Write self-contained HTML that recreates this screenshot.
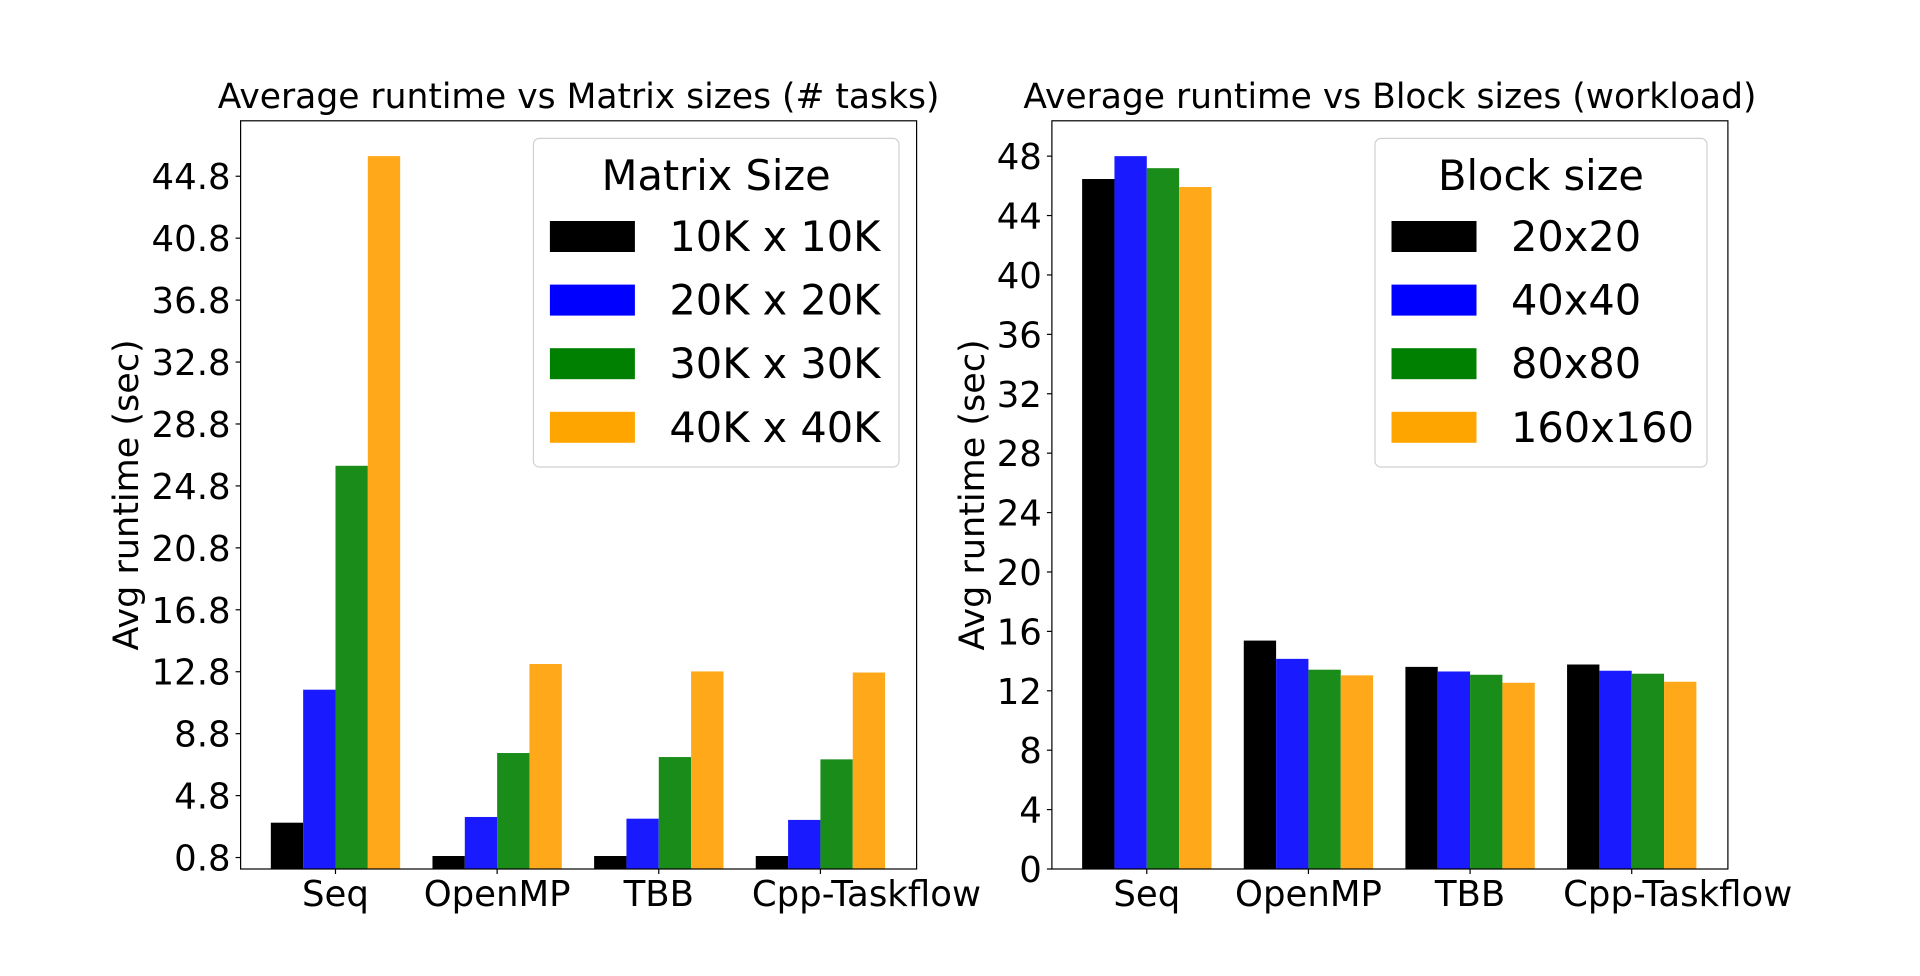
<!DOCTYPE html>
<html><head><meta charset="utf-8">
<style>
html,body{margin:0;padding:0;background:#fff;}
svg{display:block;font-family:"DejaVu Sans","Liberation Sans",sans-serif;}
</style></head>
<body>
<svg id="chart" width="1920" height="976" viewBox="0 0 1920 976" xmlns="http://www.w3.org/2000/svg"></svg>
<script>
const categories = ["Seq","OpenMP","TBB","Cpp-Taskflow"];
const leftSeriesNames = ["10K x 10K","20K x 20K","30K x 30K","40K x 40K"];
const leftS1 = [3.05,0.9,0.9,0.9];
const leftS2 = [11.64,3.42,3.31,3.23];
const leftS3 = [26.1,7.55,7.29,7.14];
const leftS4 = [46.1,13.3,12.82,12.75];
const leftTicks = [0.8,4.8,8.8,12.8,16.8,20.8,24.8,28.8,32.8,36.8,40.8,44.8];
const rightSeriesNames = ["20x20","40x40","80x80","160x160"];
const rightS1 = [46.46,15.38,13.61,13.77];
const rightS2 = [48.0,14.15,13.30,13.35];
const rightS3 = [47.19,13.42,13.08,13.15];
const rightS4 = [45.92,13.04,12.54,12.61];
const rightTicks = [0,4,8,12,16,20,24,28,32,36,40,44,48];

const NS="http://www.w3.org/2000/svg";
const svg=document.getElementById('chart');
const barColors=["rgb(0,0,0)","rgb(26,26,255)","rgb(26,140,26)","rgb(255,168,26)"];
const legColors=["#000000","#0000ff","#008000","#ffa500"];
const labelShift=[0,0,0,46];
function mk(tag,attrs,parent){const e=document.createElementNS(NS,tag);for(const k in attrs)e.setAttribute(k,attrs[k]);(parent||svg).appendChild(e);return e;}

function panel(opt){
  const g=mk('g',{});
  
  
  const L=opt.left,R=opt.right,T=120.8,B=869;
  const xmin=-0.587,xmax=3.595;
  const xs=v=>L+(v-xmin)/(xmax-xmin)*(R-L);
  const ys=v=>B-(v-opt.ymin)/(opt.ymax-opt.ymin)*(B-T);
  const series=[opt.s1,opt.s2,opt.s3,opt.s4];
  series.forEach((s,si)=>{
    s.forEach((v,ci)=>{
      const x0=xs(ci-0.4+si*0.2), x1=xs(ci-0.2+si*0.2);
      const r=mk('rect',{x:x0,y:ys(v),width:x1-x0,height:B-ys(v),fill:barColors[si]},g);
      
      
    });
  });
  const frame=mk('rect',{x:L,y:T,width:R-L,height:B-T,fill:'none',stroke:'#000','stroke-width':1.2},g);
  
  
  opt.ticks.forEach(t=>{
    const y=ys(t);
    mk('line',{x1:L-5,x2:L,y1:y,y2:y,stroke:'#000','stroke-width':1.2},g);
    const tx=mk('text',{x:L-10,y:y+13,'text-anchor':'end','font-size':35.5},g);
    tx.textContent=opt.tickFmt(t);
    
    
  });
  categories.forEach((c,ci)=>{
    const x=xs(ci);
    mk('line',{x1:x,x2:x,y1:B,y2:B+5,stroke:'#000','stroke-width':1.2},g);
    const tx=mk('text',{x:x+labelShift[ci],y:906,'text-anchor':'middle','font-size':35.5},g);
    tx.textContent=c;
    
    
  });
  const title=mk('text',{x:(L+R)/2,y:108,'text-anchor':'middle','font-size':34.5},g);
  title.textContent=opt.title;
  
  
  const yl=mk('text',{x:0,y:0,'text-anchor':'middle','font-size':35,transform:`translate(${opt.ylx},${(T+B)/2}) rotate(-90)`},g);
  yl.textContent='Avg runtime (sec)';
  
  
  const lg=mk('g',{},g);
  
  
  mk('rect',{x:opt.lx0,y:138.4,width:opt.lx1-opt.lx0,height:328.6,rx:6,fill:'#fff','fill-opacity':0.8,stroke:'#d0d0d0','stroke-width':1.2},lg);
  const lt=mk('text',{x:(opt.lx0+opt.lx1)/2,y:190,'text-anchor':'middle','font-size':41.5},lg);
  lt.textContent=opt.legTitle;
  
  
  opt.names.forEach((n,i)=>{
    const y=221+i*63.6;
    const sw=mk('rect',{x:opt.lx0+16.5,y:y,width:85,height:31,fill:legColors[i]},lg);
    
    
    const t=mk('text',{x:opt.lx0+136,y:y+30,'font-size':41.5},lg);
    t.textContent=n;
    
    
  });
}
panel({name:'matrix-size-chart',left:240.6,right:916.6,ymin:0.06,ymax:48.38,
  s1:leftS1,s2:leftS2,s3:leftS3,s4:leftS4,ticks:leftTicks,tickFmt:t=>t.toFixed(1),
  title:'Average runtime vs Matrix sizes (# tasks)',ylx:138,legTitle:'Matrix Size',names:leftSeriesNames,lx0:533.4,lx1:899});
panel({name:'block-size-chart',left:1051.9,right:1727.9,ymin:0,ymax:50.38,
  s1:rightS1,s2:rightS2,s3:rightS3,s4:rightS4,ticks:rightTicks,tickFmt:t=>String(t),
  title:'Average runtime vs Block sizes (workload)',ylx:984,legTitle:'Block size',names:rightSeriesNames,lx0:1375,lx1:1707});
</script>
</body></html>
